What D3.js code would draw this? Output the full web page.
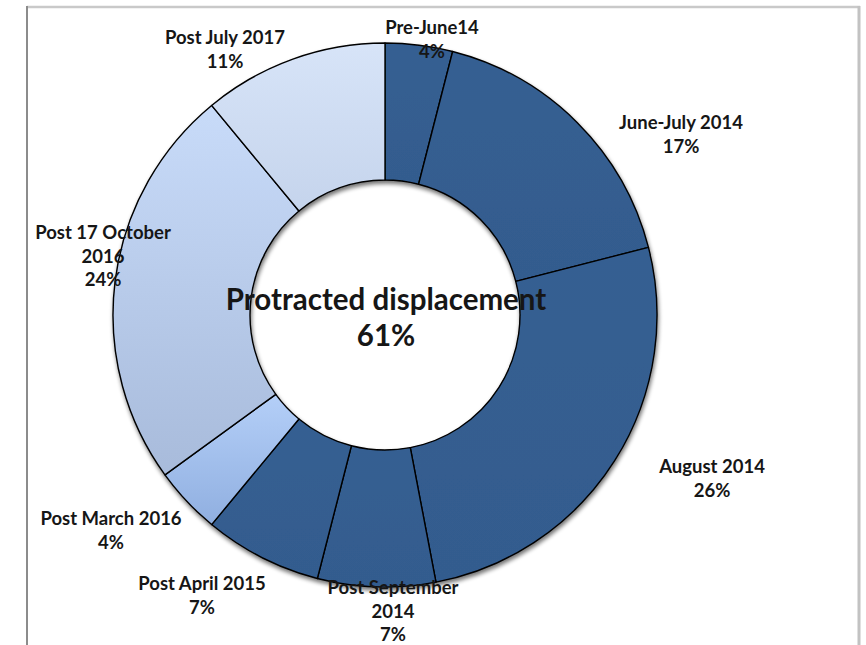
<!DOCTYPE html>
<html>
<head>
<meta charset="utf-8">
<script src="https://cdn.jsdelivr.net/npm/d3@7/dist/d3.min.js"></script>
<style>
  html, body { margin: 0; padding: 0; background: #ffffff; }
  svg { display: block; }
  text { font-family: Lato, "Open Sans", sans-serif; font-weight: bold; fill: #161616; }
</style>
</head>
<body>
<svg id="chart" width="866" height="645"></svg>
<script>
// Displacement periods, clockwise from 12 o'clock
const categories = [
  "Pre-June14", "June-July 2014", "August 2014", "Post September 2014",
  "Post April 2015", "Post March 2016", "Post 17 October 2016", "Post July 2017"
];
const values = [4, 17, 26, 7, 7, 4, 24, 11];
// Label text lines for each period (the value line is appended)
const labelLines = [
  ["Pre-June14"], ["June-July 2014"], ["August 2014"], ["Post September", "2014"],
  ["Post April 2015"], ["Post March 2016"], ["Post 17 October", "2016"], ["Post July 2017"]
];
const centerTitle = "Protracted displacement";
const centerValue = 61;

// Fill per period: solid dark blue for protracted, gradients for the later ones
const fills = [
  {top: "#365f92", bottom: "#335c8e"},
  {top: "#365f92", bottom: "#335c8e"},
  {top: "#365f92", bottom: "#335c8e"},
  {top: "#365f92", bottom: "#335c8e"},
  {top: "#365f92", bottom: "#335c8e"},
  {top: "#b4cff8", bottom: "#90afe0"},
  {top: "#c8dbf9", bottom: "#a8bbdb"},
  {top: "#d7e4f8", bottom: "#c5d4ec"}
];
// Anchor of each label block (centre x, baseline of first line)
const labelAnchor = [
  [432, 34], [681, 129], [712, 473], [393, 594],
  [202, 590], [111, 525], [103, 239], [225, 44]
];

const svg = d3.select("#chart");
const cx = 385, cy = 315, rOuter = 272, rInner = 135;

// Frame around the chart area
svg.append("line").attr("x1", 27).attr("y1", 7).attr("x2", 860).attr("y2", 7)
  .attr("stroke", "#c9c9c9").attr("stroke-width", 2.5);
svg.append("line").attr("x1", 27).attr("y1", 6).attr("x2", 27).attr("y2", 645)
  .attr("stroke", "#8c8c8c").attr("stroke-width", 2);
svg.append("line").attr("x1", 859).attr("y1", 6).attr("x2", 859).attr("y2", 645)
  .attr("stroke", "#c2c2c2").attr("stroke-width", 3);

const defs = svg.append("defs");
const shadow = defs.append("filter").attr("id", "shadow")
  .attr("x", "-20%").attr("y", "-20%").attr("width", "140%").attr("height", "140%");
shadow.append("feGaussianBlur").attr("in", "SourceAlpha").attr("stdDeviation", 2.2).attr("result", "b");
shadow.append("feOffset").attr("in", "b").attr("dx", 1).attr("dy", 2.5).attr("result", "o");
shadow.append("feComponentTransfer").attr("in", "o").attr("result", "s")
  .append("feFuncA").attr("type", "linear").attr("slope", 0.55);
const merge = shadow.append("feMerge");
merge.append("feMergeNode").attr("in", "s");
merge.append("feMergeNode").attr("in", "SourceGraphic");

fills.forEach((f, i) => {
  const g = defs.append("linearGradient").attr("id", "grad" + i)
    .attr("x1", 0).attr("y1", 0).attr("x2", 0).attr("y2", 1);
  g.append("stop").attr("offset", "0%").attr("stop-color", f.top);
  g.append("stop").attr("offset", "100%").attr("stop-color", f.bottom);
});

const pie = d3.pie().sort(null).value(d => d)(values);
const arc = d3.arc().innerRadius(rInner).outerRadius(rOuter);

const ring = svg.append("g").attr("transform", `translate(${cx},${cy})`)
  .attr("filter", "url(#shadow)");
ring.selectAll("path").data(pie).join("path")
  .attr("d", arc)
  .attr("fill", (d, i) => `url(#grad${i})`)
  .attr("stroke", "#000")
  .attr("stroke-width", 1.4)
  .attr("stroke-linejoin", "round");

// Centre caption
const cg = svg.append("g");
cg.append("text").attr("x", cx + 1).attr("y", cy - 5).attr("text-anchor", "middle")
  .attr("font-size", 29.5).text(centerTitle);
cg.append("text").attr("x", cx + 1).attr("y", cy + 31).attr("text-anchor", "middle")
  .attr("font-size", 29.5).text(centerValue + "%");

// Period labels
const lg = svg.append("g");
pie.forEach((d, i) => {
  const lines = labelLines[i].concat([values[i] + "%"]);
  const t = lg.append("text").attr("text-anchor", "middle").attr("font-size", 18.5)
    .attr("transform", `translate(${labelAnchor[i][0]},${labelAnchor[i][1]})`);
  lines.forEach((s, k) => {
    t.append("tspan").attr("x", 0).attr("y", k * 23.5).text(s);
  });
});
</script>
</body>
</html>
